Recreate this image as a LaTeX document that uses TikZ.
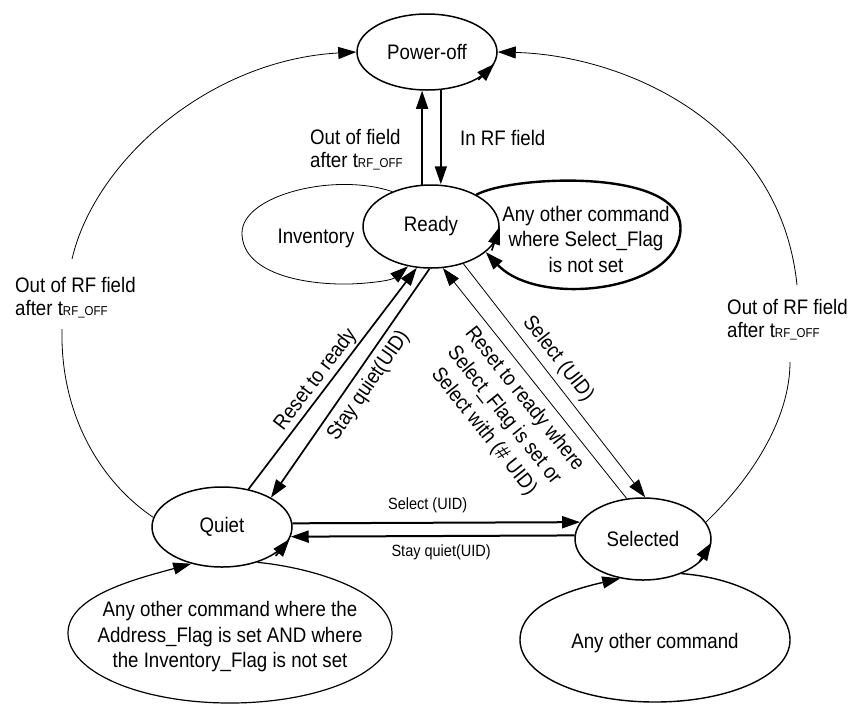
\documentclass[tikz,border=0pt]{standalone}
\usepackage{fontspec}
\setmainfont{Liberation Sans}[FakeStretch=0.89]
\usetikzlibrary{arrows.meta,shapes.geometric}
\newcommand\lbfont{\fontsize{21}{23}\selectfont}
\newcommand\lpfont{\fontsize{21}{25.5}\selectfont}
\newcommand\rotfont{\fontsize{21}{26}\selectfont}
\newcommand\smfont{\fontsize{16.3}{17}\selectfont}
\newcommand\trfoff{t{\fontsize{12.9}{12}\selectfont RF\_OFF}}

\begin{document}
\begin{tikzpicture}[x=1pt, y=-1pt, line join=round,
  state/.style={draw, ellipse, line width=1.5pt, fill=white, inner sep=0pt, font=\lbfont},
  arr/.style={-{Triangle[length=18pt,width=12pt]}},
  lbl/.style={font=\lbfont, inner sep=0pt, align=left},
  looptxt/.style={font=\lpfont, inner sep=0pt, align=center},
  smlbl/.style={font=\smfont, inner sep=0pt},
  thinln/.style={line width=0.8pt},
  midln/.style={line width=1.2pt},
  thickln/.style={line width=1.7pt}]
\useasboundingbox (0,0) rectangle (851,705);

\node[state, minimum width=140pt, minimum height=76pt] (power) at (427,52) {Power-off};
\node[state, minimum width=136pt, minimum height=83pt] (ready) at (431,226.5) {Ready};
\node[state, minimum width=140pt, minimum height=80pt] (quiet) at (222,527) {Quiet};
\node[state, minimum width=136pt, minimum height=82pt] (selected) at (643,539) {Selected};

\node[lbl, anchor=west] (outf) at (310,150) {Out of field\\after \trfoff};
\node[lbl, anchor=base west] (inrf) at (460,145) {In RF field};
\node[lbl, anchor=west] (offL) at (15,298) {Out of RF field\\after \trfoff};
\node[lbl, anchor=west] (offR) at (727,320) {Out of RF field\\after \trfoff};
\node[looptxt] (invtxt) at (316,238) {Inventory};
\node[looptxt] (rdytxt) at (586,239) {Any other command\\where Select\_Flag\\is not set};
\node[looptxt] (qtxt) at (230,637) {Any other command where the\\Address\_Flag is set AND where\\the Inventory\_Flag is not set};
\node[looptxt] (seltxt) at (655,643) {Any other command};

\coordinate (lgapA) at (72,259);
\coordinate (lgapB) at (62,329);
\coordinate (rgapA) at (797,285);
\coordinate (rgapB) at (790,362);

\draw[thickln, arr] (ready.102) -- (ready.102 |- power.south);
\draw[thickln, arr] (power.-70) -- (power.-70 |- ready.north);

\draw[thinln, arr] (ready.138) .. controls (335,172) and (242,195) .. (242,233) .. controls (242,272) and (300,285) .. (350,284) .. controls (375,283) and (392,280) .. (ready.-120);
\draw[line width=2.4pt, arr] (ready.35) .. controls (510,176) and (670,168) .. (680,222) .. controls (690,290) and (540,310) .. (ready.-25);

\draw[thickln, arr] (quiet.55) -- node[lbl, sloped, above=2pt, pos=0.46] {Reset to ready} (ready.-109);
\draw[thickln, arr] (ready.-92) -- node[lbl, sloped, below=6pt, pos=0.47] {Stay quiet(UID)} (quiet.31);
\draw[thinln, arr] (ready.-49) -- node[lbl, sloped, above=6pt, pos=0.45] {Select (UID)} (selected.87);
\draw[thinln, arr] (selected.112) -- node[lbl, font=\rotfont, sloped, below=8pt, pos=0.48, align=center] {Reset to ready where\\Select\_Flag is set or\\Select with (\# UID)} (ready.-74);

\draw[line width=2pt, arr] (quiet.3) -- node[smlbl, above=9pt, pos=0.47] {Select (UID)} (selected.165);
\draw[line width=2pt, arr] (selected.177) -- node[smlbl, below=8pt, pos=0.47] {Stay quiet(UID)} (quiet.-8);

\draw[thinln] (quiet.172) .. controls (105,485) and (60,420) .. (lgapB);
\draw[thinln, arr] (lgapA) .. controls (95,160) and (210,60) .. (power.west);
\draw[thinln] (selected.15) .. controls (750,480) and (790,420) .. (rgapB);
\draw[thinln, arr] (rgapA) .. controls (780,120) and (620,55) .. (power.east);

\draw[midln, arr] (quiet.-45) .. controls (315,568) and (392,592) .. (392,633) .. controls (392,672) and (320,703) .. (230,703) .. controls (140,703) and (68,672) .. (68,633) .. controls (68,595) and (140,578) .. (quiet.-130);
\draw[line width=1.4pt, arr] (selected.-42) .. controls (740,578) and (790,605) .. (790,640) .. controls (790,675) and (730,702) .. (655,702) .. controls (580,702) and (520,675) .. (520,640) .. controls (520,605) and (570,590) .. (selected.-120);

\draw[thickln, arr] ([shift={(-16,16)}]power.-10) -- (power.-10);
\draw[thickln, arr] ([shift={(-8,24)}]ready.east) -- (ready.east);
\draw[thickln, arr] ([shift={(-14,17)}]quiet.-10) -- (quiet.-10);
\draw[thickln, arr] ([shift={(-12,19)}]selected.-3) -- (selected.-3);
\end{tikzpicture}
\end{document}
